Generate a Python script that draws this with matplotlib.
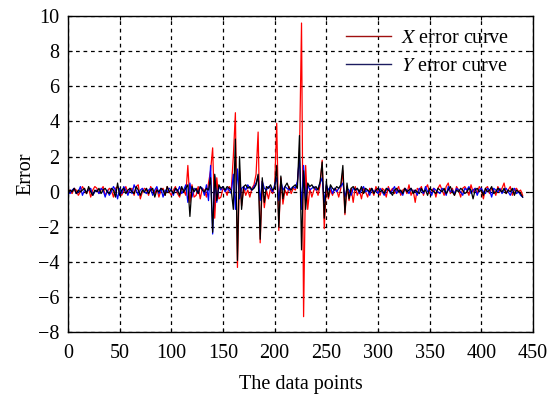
import matplotlib
matplotlib.use("Agg")
import matplotlib.pyplot as plt
from matplotlib.lines import Line2D
import numpy as np

# sample index (every 2nd data point)
x_points = np.arange(0, 441, 2)

x_error = [
    0.0, 0.1, -0.1, 0.2, 0.1, -0.2, 0.0, 0.3, 0.1, -0.1,
    0.2, -0.3, 0.1, 0.3, 0.2, -0.1, 0.1, 0.3, -0.2, 0.0,
    0.2, 0.1, -0.3, 0.2, 0.3, 0.0, -0.2, 0.1, 0.3, -0.1,
    0.1, 0.2, -0.2, 0.3, 0.4, -0.4, 0.0, 0.2, 0.1, -0.2,
    0.3, 0.1, -0.1, 0.2, -0.3, 0.1, 0.2, -0.2, 0.3, 0.0,
    -0.2, 0.1, 0.3, -0.1, -0.3, 0.2, 0.1, -0.2, 1.5, -0.6,
    0.4, -0.3, -0.2, 0.3, -0.4, 0.2, 0.1, -0.3, 0.5, 1.2,
    2.5, -1.5, 0.8, -0.4, -0.3, 0.2, 0.1, -0.2, 0.3, 0.1,
    2.0, 4.5, -4.3, 1.2, -0.8, 0.3, -0.2, 0.1, -0.3, 0.2,
    0.4, 1.0, 3.4, -2.9, 0.6, -0.9, 0.1, -0.4, 0.2, -0.1,
    0.3, 3.9, -2.2, 0.8, -0.7, 0.1, -0.2, 0.3, -0.1, 0.2,
    0.1, 0.5, 2.0, 9.6, -7.1, 1.5, -1.0, 0.2, -0.3, 0.1,
    0.2, -0.2, 0.4, 1.8, -2.1, 0.3, -0.4, 0.1, -0.2, 0.2,
    0.1, -0.3, 0.2, 1.2, -1.3, 0.3, -0.5, 0.2, -0.6, 0.3,
    -0.2, 0.1, -0.4, 0.2, 0.0, -0.3, 0.2, 0.1, -0.2, 0.3,
    0.0, -0.2, 0.2, 0.1, -0.3, 0.3, 0.0, 0.2, -0.1, 0.1,
    0.3, -0.2, 0.1, 0.2, -0.1, 0.4, -0.2, 0.1, -0.6, 0.2,
    0.1, 0.3, -0.2, 0.2, 0.4, -0.1, 0.1, 0.2, -0.3, 0.2,
    0.4, 0.1, -0.2, 0.3, 0.5, -0.1, 0.2, -0.2, 0.3, 0.1,
    -0.3, 0.2, 0.3, 0.1, -0.2, 0.4, 0.0, 0.2, -0.1, 0.3,
    0.1, -0.4, 0.2, 0.3, -0.1, 0.2, 0.1, -0.2, 0.3, 0.0,
    0.2, 0.5, -0.1, 0.1, 0.3, -0.2, 0.1, 0.2, 0.0, 0.1,
    -0.2,
]

y_error = [
    0.0, -0.1, 0.1, 0.2, -0.1, 0.0, 0.3, -0.2, 0.1, 0.0,
    0.1, 0.2, -0.2, 0.0, 0.1, -0.1, 0.2, 0.1, -0.3, 0.1,
    -0.2, 0.0, 0.3, 0.1, -0.4, 0.2, -0.1, 0.3, 0.1, -0.2,
    0.2, -0.1, 0.4, 0.1, -0.2, 0.1, 0.2, 0.0, -0.1, 0.1,
    0.2, -0.2, 0.1, 0.3, -0.1, 0.2, -0.3, 0.1, 0.0, 0.2,
    0.1, -0.2, 0.2, 0.0, 0.3, -0.1, 0.1, 0.4, -0.6, 0.5,
    -0.3, 0.2, 0.1, -0.1, 0.3, 0.2, -0.2, 0.4, -0.5, 1.5,
    -2.4, 0.9, -0.6, 0.3, 0.1, 0.3, 0.0, 0.2, 0.1, -0.1,
    1.0, -1.0, 1.3, -0.4, 0.2, 0.3, 0.1, 0.4, 0.2, 0.1,
    0.3, 0.5, 0.9, -0.5, 0.6, 0.2, 0.1, 0.3, 0.2, 0.0,
    0.4, 0.8, -0.5, 0.6, 0.1, 0.3, 0.2, 0.1, 0.2, 0.3,
    0.2, 0.6, 2.0, -1.0, 1.5, -0.5, 0.4, 0.1, 0.2, 0.3,
    0.1, 0.2, 0.5, 0.8, -0.6, 0.4, 0.1, 0.3, -0.1, 0.2,
    0.0, 0.2, 0.3, 0.5, -0.3, 0.2, 0.1, -0.2, 0.2, 0.1,
    0.2, -0.1, 0.1, 0.3, 0.0, 0.1, -0.2, 0.2, 0.0, 0.1,
    -0.1, 0.2, 0.0, -0.2, 0.1, 0.2, -0.1, 0.1, 0.3, -0.1,
    0.1, 0.0, -0.2, 0.2, 0.1, -0.1, 0.2, 0.0, 0.1, -0.2,
    0.2, 0.1, -0.1, 0.3, 0.0, 0.1, -0.2, 0.2, 0.1, 0.0,
    -0.1, 0.2, 0.1, -0.2, 0.3, 0.0, 0.1, -0.1, 0.2, 0.1,
    0.0, -0.2, 0.2, 0.1, 0.3, -0.1, 0.1, 0.2, -0.2, 0.1,
    0.2, 0.0, -0.1, 0.2, 0.1, -0.3, 0.2, 0.1, 0.0, 0.2,
    -0.1, 0.1, 0.2, 0.0, -0.2, 0.1, 0.2, -0.1, 0.0, -0.2,
    -0.3,
]

# third (unlabelled) black curve
z_error = [
    -0.1, 0.1, 0.0, 0.2, -0.1, 0.1, 0.0, 0.1, 0.2, -0.1,
    0.3, 0.0, -0.2, 0.1, 0.0, 0.2, -0.1, 0.1, 0.2, 0.0,
    -0.1, 0.2, 0.1, -0.3, 0.5, -0.2, 0.1, 0.2, -0.1, 0.1,
    0.2, 0.0, -0.1, 0.3, 0.1, -0.2, 0.1, 0.0, 0.2, -0.1,
    0.1, 0.2, -0.3, 0.1, 0.0, 0.2, 0.1, -0.2, 0.3, 0.0,
    0.1, -0.1, 0.2, 0.1, -0.2, 0.3, 0.0, 0.2, 0.4, -1.4,
    0.3, 0.0, 0.2, -0.1, 0.3, 0.1, 0.0, 0.2, 0.1, 0.8,
    -2.3, 1.0, -0.5, 0.4, 0.2, 0.3, 0.1, 0.3, 0.2, 0.1,
    -1.0, 3.0, -3.9, 2.0, -1.0, 0.3, 0.4, 0.2, 0.3, 0.1,
    0.2, 0.4, 1.0, -2.7, 0.8, -0.6, 0.3, 0.2, 0.4, 0.1,
    0.2, 1.5, -2.0, 0.9, -0.4, 0.3, 0.5, 0.2, 0.1, 0.3,
    0.4, 0.2, 3.2, -3.3, 1.2, -1.0, 0.5, 0.3, 0.4, 0.2,
    0.3, 0.1, 0.6, 1.7, -1.5, 0.6, -0.3, 0.4, 0.2, 0.1,
    0.3, 0.2, 0.4, 1.5, -1.2, 0.5, -0.4, 0.2, 0.3, 0.1,
    0.2, 0.0, 0.3, -0.1, 0.2, 0.1, 0.0, 0.2, -0.1, 0.1,
    0.2, 0.0, 0.1, -0.1, 0.2, 0.1, 0.0, -0.2, 0.1, 0.2,
    0.0, 0.1, -0.1, 0.2, 0.0, 0.1, 0.2, -0.1, 0.1, 0.0,
    -0.1, 0.2, 0.0, 0.1, -0.2, 0.2, 0.1, 0.0, -0.1, 0.2,
    0.1, 0.0, 0.2, -0.1, 0.1, 0.3, 0.0, -0.2, 0.1, 0.0,
    0.2, 0.1, -0.1, 0.0, 0.2, 0.1, -0.4, 0.1, 0.2, 0.0,
    0.1, -0.2, 0.2, 0.0, 0.1, 0.3, -0.1, 0.0, 0.2, 0.1,
    0.0, 0.2, -0.1, 0.1, 0.0, 0.2, -0.2, 0.1, 0.0, -0.1,
    -0.3,
]

x_ticks = list(range(0, 451, 50))
y_ticks = list(range(-8, 11, 2))

plt.rcParams['font.family'] = ['Liberation Serif', 'DejaVu Serif']
plt.rcParams['mathtext.fontset'] = 'stix'

fs = 14.5

fig = plt.figure(figsize=(5.59, 3.97), dpi=100)
ax = fig.add_axes([0.1216, 0.1625, 0.8319, 0.7972])

ax.plot(x_points, x_error, color='#ff0000', lw=0.9)
ax.plot(x_points, y_error, color='#0000ff', lw=0.9)
ax.plot(x_points, z_error, color='#000000', lw=0.9)

ax.set_xlim(0, 450)
ax.set_ylim(-8, 10)
ax.set_xticks(x_ticks)
ax.set_yticks(y_ticks)
ax.tick_params(direction='in', top=True, right=True, length=3,
               labelsize=fs)
ax.tick_params(axis='x', pad=8)
ax.tick_params(axis='y', pad=6)
ax.grid(True, color='black', linestyle=(0, (3, 3)), linewidth=0.9)
for s in ax.spines.values():
    s.set_linewidth(1.0)

ax.set_xlabel('The data points', fontsize=fs, labelpad=9)
ax.set_ylabel('Error', fontsize=fs, labelpad=2)

handles = [Line2D([], [], color='#a01010', lw=1.0),
           Line2D([], [], color='#1c1c60', lw=1.0)]
leg = ax.legend(handles, ['$X$ error curve', '$Y$ error curve'],
                loc='upper right', bbox_to_anchor=(0.965, 0.985),
                frameon=False, fontsize=fs,
                handlelength=2.2, handletextpad=0.5, labelspacing=0.45,
                borderaxespad=0.0)

fig.savefig('out.png', dpi=100)
